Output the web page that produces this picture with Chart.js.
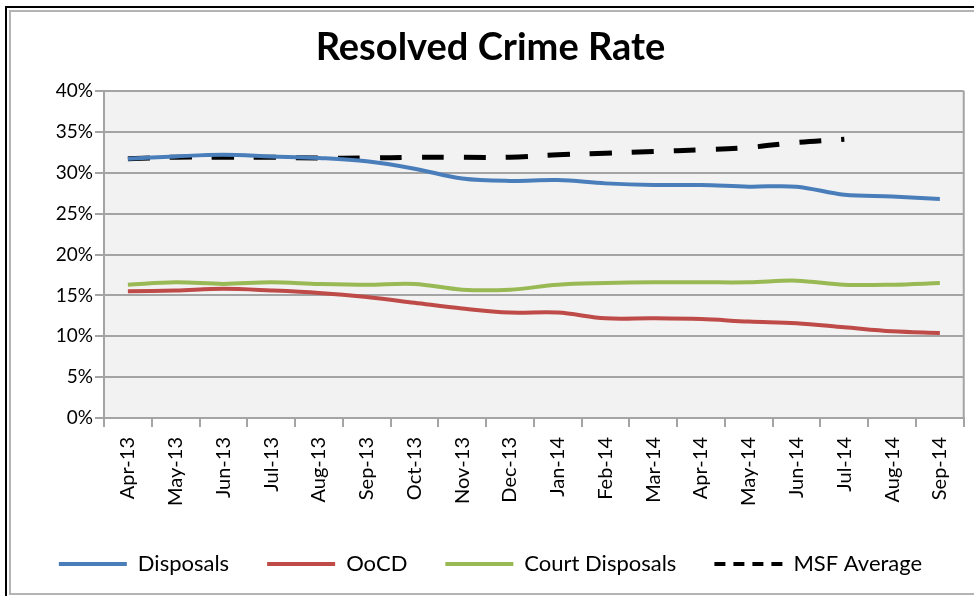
<!DOCTYPE html>
<html>
<head>
<meta charset="utf-8">
<title>Resolved Crime Rate</title>
<script src="https://cdn.jsdelivr.net/npm/chart.js@4.4.1/dist/chart.umd.min.js"></script>
<style>
    html, body { margin: 0; padding: 0; background: #fff; }
    #wrap { position: relative; width: 974px; height: 596px; }
    #frameOuter { position: absolute; left: 5px; top: 6px; right: 0; bottom: 0;
        border-left: 2px solid #000; border-top: 2px solid #000; pointer-events: none; }
    #frameInner { position: absolute; left: 9px; top: 10px; right: 0; bottom: 1px;
        border-left: 2px solid #b4b4b4; border-top: 2px solid #b4b4b4; border-bottom: 2px solid #b4b4b4; pointer-events: none; }
</style>
</head>
<body>
<div id="wrap">
    <canvas id="crimeChart" width="974" height="596"></canvas>
    <div id="frameOuter"></div>
    <div id="frameInner"></div>
</div>
<script>
// Meses (abril 2013 - septiembre 2014)
const months = ['Apr-13', 'May-13', 'Jun-13', 'Jul-13', 'Aug-13', 'Sep-13', 'Oct-13', 'Nov-13', 'Dec-13',
                'Jan-14', 'Feb-14', 'Mar-14', 'Apr-14', 'May-14', 'Jun-14', 'Jul-14', 'Aug-14', 'Sep-14'];

// Valores en %
const disposals      = [31.7, 32.0, 32.2, 32.0, 31.8, 31.4, 30.5, 29.3, 29.0, 29.1, 28.7, 28.5, 28.5, 28.3, 28.3, 27.3, 27.1, 26.8];
const oocd           = [15.5, 15.6, 15.8, 15.6, 15.3, 14.8, 14.1, 13.4, 12.9, 12.9, 12.2, 12.2, 12.1, 11.8, 11.6, 11.1, 10.6, 10.4];
const courtDisposals = [16.3, 16.6, 16.4, 16.6, 16.4, 16.3, 16.4, 15.7, 15.7, 16.3, 16.5, 16.6, 16.6, 16.6, 16.8, 16.3, 16.3, 16.5];
const msfAverage     = [31.7, 31.9, 31.9, 31.9, 31.8, 31.8, 31.9, 31.9, 31.9, 32.2, 32.4, 32.6, 32.8, 33.1, 33.7, 34.1, null, null];

const yTicks = [0, 5, 10, 15, 20, 25, 30, 35, 40];

const FONT = 'Lato';
const GRID = '#a4a4a4';

// Fondo gris y borde derecho del área de trazado
const plotArea = {
    id: 'plotArea',
    beforeDraw(chart) {
        const { ctx, chartArea: a } = chart;
        ctx.save();
        ctx.fillStyle = '#f2f2f2';
        ctx.fillRect(a.left, a.top, a.right - a.left, a.bottom - a.top);
        ctx.restore();
    },
    afterDraw(chart) {
        const { ctx, chartArea: a } = chart;
        ctx.save();
        ctx.strokeStyle = GRID;
        ctx.lineWidth = 2;
        ctx.beginPath();
        ctx.moveTo(a.right, a.top);
        ctx.lineTo(a.right, a.bottom);
        ctx.stroke();
        ctx.restore();
    }
};

function line(label, data, color, width, dash) {
    return {
        label: label,
        data: data,
        borderColor: color,
        backgroundColor: color,
        borderWidth: width,
        borderDash: dash || [],
        pointRadius: 0,
        tension: 0.35,
        fill: false,
        spanGaps: false
    };
}

new Chart(document.getElementById('crimeChart').getContext('2d'), {
    type: 'line',
    data: {
        labels: months,
        datasets: [
            line('Disposals', disposals, '#4a7ebb', 4),
            line('OoCD', oocd, '#be4b48', 4),
            line('Court Disposals', courtDisposals, '#98b954', 4),
            line('MSF Average', msfAverage, '#000000', 5, [22, 20])
        ]
    },
    options: {
        responsive: false,
        animation: false,
        layout: { padding: { left: 12, right: 5, top: 0, bottom: 11 } },
        plugins: {
            title: {
                display: true,
                text: 'Resolved Crime Rate',
                color: '#000',
                font: { family: FONT, size: 38, weight: 'bold' },
                padding: { top: 25.2, bottom: 20.2 }
            },
            legend: {
                position: 'bottom',
                labels: {
                    usePointStyle: true,
                    pointStyle: 'line',
                    pointStyleWidth: 68,
                    color: '#000',
                    font: { family: FONT, size: 22 },
                    padding: 38,
                    generateLabels(chart) {
                        const items = Chart.defaults.plugins.legend.labels.generateLabels(chart);
                        items.forEach(it => {
                            const ds = chart.data.datasets[it.datasetIndex];
                            it.lineWidth = 4;
                            it.strokeStyle = ds.borderColor;
                            it.lineDash = ds.borderDash.length ? [11, 8] : [];
                        });
                        return items;
                    }
                }
            },
            tooltip: { enabled: false }
        },
        scales: {
            x: {
                offset: true,
                grid: { offset: true, drawOnChartArea: false, tickLength: 9, color: GRID, lineWidth: 2 },
                border: { color: GRID, width: 2 },
                ticks: {
                    autoSkip: false, minRotation: 90, maxRotation: 90,
                    color: '#000', font: { family: FONT, size: 20 }, padding: 10
                },
                afterFit(scale) { scale.height = 97; }
            },
            y: {
                min: 0,
                max: 40,
                afterBuildTicks(scale) { scale.ticks = yTicks.map(v => ({ value: v })); },
                grid: { tickLength: 9, color: GRID, lineWidth: 2 },
                border: { color: GRID, width: 2 },
                ticks: {
                    color: '#000', font: { family: FONT, size: 19 }, padding: 2,
                    callback: v => v + '%'
                },
                afterFit(scale) { scale.width = 92; }
            }
        }
    },
    plugins: [plotArea]
});
</script>
</body>
</html>
